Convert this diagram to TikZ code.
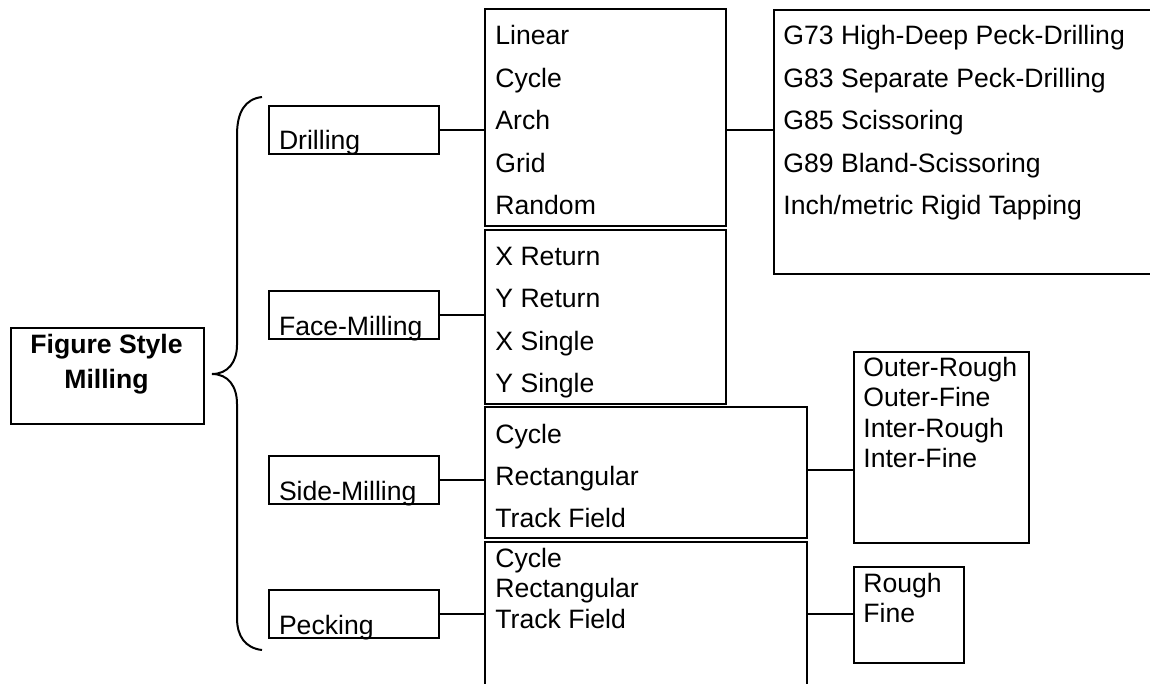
\documentclass[tikz,border=0pt]{standalone}
\usepackage{fontspec}
\setmainfont{Liberation Sans}
\usepackage{tikz}

\begin{document}
\begin{tikzpicture}[
    x=0.5pt, y=-0.5pt,
    txt/.style={font=\fontsize{13.3}{17.5}\selectfont},
    mainbox/.style={rectangle, draw, line width=1pt, anchor=north west, inner sep=0pt, minimum width=96.5pt, minimum height=48pt},
    maintext/.style={txt, font=\fontsize{13.3}{17.5}\selectfont\bfseries, align=center, anchor=north, inner sep=0pt},
    catbox/.style={rectangle, draw, line width=1pt, anchor=north west, txt, text width=75pt, align=left, inner xsep=5pt, inner ysep=0pt, text height=22pt, text depth=2pt},
    listbox/.style={rectangle, draw, line width=1pt, anchor=north west, inner sep=0pt},
    item/.style={txt, anchor=base west, inner sep=0pt},
    link/.style={line width=1pt},
]
\useasboundingbox (0,0) rectangle (1150,684);

% Root and brace
\node[mainbox] (main) at (10,327) {};
\node[maintext] (maintitle) at (106.5,334) {Figure Style\\Milling};
\draw[line width=1pt] (262,97) .. controls (245,99) and (237,112) .. (237,135) -- (237,345)
    .. controls (237,362) and (228,374) .. (212,374)
    .. controls (228,374) and (237,386) .. (237,404) -- (237,618)
    .. controls (237,636) and (245,648) .. (262,650);

% Categories
\node[catbox] (drill) at (268,105) {Drilling};
\node[catbox] (face) at (268,290) {Face-Milling};
\node[catbox] (side) at (268,455) {Side-Milling};
\node[catbox] (peck) at (268,589) {Pecking};

% Second column
\node[listbox, minimum width=120.5pt, minimum height=108.5pt] (drilllist) at (484,8) {};
\foreach \t [count=\i from 0] in {Linear,Cycle,Arch,Grid,Random}
    \node[item] (drill-\i) at (495,{45+42.5*\i}) {\t};

\node[listbox, minimum width=120.5pt, minimum height=87pt] (facelist) at (484,229) {};
\foreach \t [count=\i from 0] in {X Return,Y Return,X Single,Y Single}
    \node[item] (face-\i) at (495,{265+42.5*\i}) {\t};

\node[listbox, minimum width=161pt, minimum height=65.5pt] (sidelist) at (484,406) {};
\foreach \t [count=\i from 0] in {Cycle,Rectangular,Track Field}
    \node[item] (side-\i) at (495,{443+42*\i}) {\t};

\node[listbox, minimum width=161pt, minimum height=80pt] (pecklist) at (484,541) {};
\foreach \t [count=\i from 0] in {Cycle,Rectangular,Track Field}
    \node[item] (peck-\i) at (495,{567+30.5*\i}) {\t};

% Third column
\node[listbox, minimum width=195pt, minimum height=132pt] (gcodes) at (773,9) {};
\foreach \t [count=\i from 0] in {G73 High-Deep Peck-Drilling,G83 Separate Peck-Drilling,G85 Scissoring,G89 Bland-Scissoring,Inch/metric Rigid Tapping}
    \node[item] (gcode-\i) at (783,{45+42.5*\i}) {\t};

\node[listbox, minimum width=87.5pt, minimum height=95.5pt] (contour) at (853,351) {};
\foreach \t [count=\i from 0] in {Outer-Rough,Outer-Fine,Inter-Rough,Inter-Fine}
    \node[item] (contour-\i) at (863,{376+30.5*\i}) {\t};

\node[listbox, minimum width=55pt, minimum height=48pt] (rough) at (853,566) {};
\foreach \t [count=\i from 0] in {Rough,Fine}
    \node[item] (rough-\i) at (863,{592+30.5*\i}) {\t};

% Connectors
\draw[link] (drill.east) -- (drill.east -| drilllist.west);
\draw[link] (drill.east -| drilllist.east) -- (drill.east -| gcodes.west);
\draw[link] (face.east) -- (face.east -| facelist.west);
\draw[link] (side.east) -- (side.east -| sidelist.west);
\draw[link] ([yshift=1.5pt]sidelist.east) -- ([yshift=1.5pt]sidelist.east -| contour.west);
\draw[link] (peck.east) -- (peck.east -| pecklist.west);
\draw[link] (peck.east -| pecklist.east) -- (peck.east -| rough.west);
\end{tikzpicture}
\end{document}
